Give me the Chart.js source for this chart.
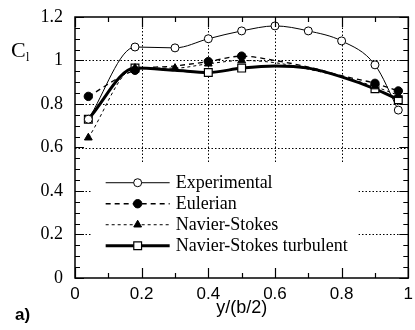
<!DOCTYPE html>
<html>
<head>
<meta charset="utf-8">
<script src="https://cdn.jsdelivr.net/npm/chart.js@4/dist/chart.umd.min.js"></script>
<style>
  html, body { margin: 0; padding: 0; background: #fff; }
  #wrap { width: 415px; height: 330px; }
</style>
</head>
<body>
<div id="wrap"><canvas id="cl-chart"></canvas></div>
<script>
// spanwise stations y/(b/2)
const stations = [0.04, 0.18, 0.3, 0.4, 0.5, 0.6, 0.7, 0.8, 0.9, 0.97];
const experimental = [0.73, 1.062, 1.058, 1.10, 1.136, 1.159, 1.136, 1.09, 0.98, 0.772];
const eulerian = [0.835, 0.955, 0.975, 0.995, 1.02, 1.0, 0.97, 0.93, 0.895, 0.86];
const navierStokes = [0.645, 0.965, 0.965, 0.985, 1.0, 0.99, 0.96, 0.925, 0.88, 0.84];
const nsTurbulent = [0.73, 0.965, 0.955, 0.945, 0.965, 0.975, 0.965, 0.925, 0.87, 0.82];
const seriesNames = ["Experimental", "Eulerian", "Navier-Stokes", "Navier-Stokes turbulent"];
const xTicks = [0, 0.2, 0.4, 0.6, 0.8, 1];
const yTicks = [0, 0.2, 0.4, 0.6, 0.8, 1, 1.2];

const serif = "'Liberation Serif', 'Times New Roman', serif";
const sans = "'Liberation Sans', Arial, sans-serif";

const pts = (ys) => stations.map((x, i) => ({ x: x, y: ys[i] }));
// which stations carry a marker
const marksAt = (list, r) => (ctx) => list.includes(ctx.dataIndex) ? r : 0;
const fmt = (v) => String(Number(v.toFixed(1)));

const styles = [
    { pointStyle: 'circle', radius: marksAt([0,1,2,3,4,5,6,7,8,9], 4), fill: '#fff', width: 1, dash: [], pw: 1 },
    { pointStyle: 'circle', radius: marksAt([0,1,3,4,8,9], 4.2), fill: '#000', width: 1.3, dash: [5, 4], pw: 1 },
    { pointStyle: 'triangle', radius: marksAt([0,1,2,3,4,8,9], 4.5), fill: '#000', width: 1, dash: [3, 3], pw: 1 },
    { pointStyle: 'rect', radius: marksAt([0,1,3,4,8,9], 5.5), fill: '#fff', width: 3, dash: [], pw: 1.2 }
];
const values = [experimental, eulerian, navierStokes, nsTurbulent];

const datasets = values.map((v, i) => ({
    label: seriesNames[i],
    data: pts(v),
    borderColor: '#000',
    backgroundColor: styles[i].fill,
    borderWidth: styles[i].width,
    borderDash: styles[i].dash,
    cubicInterpolationMode: 'monotone',
    pointStyle: styles[i].pointStyle,
    pointRadius: styles[i].radius,
    pointBorderWidth: styles[i].pw,
    pointBorderColor: '#000',
    pointBackgroundColor: styles[i].fill
}));

const decor = {
    id: 'decor',
    beforeDatasetsDraw(chart) {
        const { ctx, chartArea: a, scales: { x, y } } = chart;
        ctx.save();
        // dotted grid
        ctx.strokeStyle = '#000';
        ctx.lineWidth = 1;
        ctx.setLineDash([1.5, 2]);
        xTicks.slice(1, -1).forEach(v => {
            const px = Math.round(x.getPixelForValue(v)) + 0.5;
            ctx.beginPath(); ctx.moveTo(px, a.top); ctx.lineTo(px, a.bottom); ctx.stroke();
        });
        yTicks.slice(1, -1).forEach(v => {
            const py = Math.round(y.getPixelForValue(v)) + 0.5;
            ctx.beginPath(); ctx.moveTo(a.left, py); ctx.lineTo(a.right, py); ctx.stroke();
        });
        ctx.setLineDash([]);

        // legend box (covers grid)
        const bx = x.getPixelForValue(0.05), bw = x.getPixelForValue(0.85) - bx;
        const by = y.getPixelForValue(0.53), bh = a.bottom - 1 - by;
        ctx.fillStyle = '#fff';
        ctx.fillRect(bx, by, bw, bh);

        const x0 = bx + 14, x1 = x0 + 64, tx = x1 + 6;
        let ly = by + 20;
        chart.data.datasets.forEach((ds, i) => {
            const st = styles[i];
            ctx.strokeStyle = '#000';
            ctx.lineWidth = st.width;
            ctx.setLineDash(st.dash);
            ctx.beginPath(); ctx.moveTo(x0, ly); ctx.lineTo(x1, ly); ctx.stroke();
            ctx.setLineDash([]);
            ctx.fillStyle = st.fill;
            ctx.lineWidth = st.pw;
            const r = st.radius({ dataIndex: 0 });
            Chart.helpers.drawPoint(ctx, { pointStyle: st.pointStyle, radius: r, rotation: 0, borderWidth: st.pw }, (x0 + x1) / 2, ly);
            ctx.fillStyle = '#000';
            ctx.font = '18px ' + serif;
            ctx.textBaseline = 'middle';
            ctx.textAlign = 'left';
            ctx.fillText(ds.label, tx, ly + 1);
            ly += 21;
        });
        ctx.restore();
    },
    afterDraw(chart) {
        const { ctx, chartArea: a, scales: { x, y } } = chart;
        ctx.save();
        ctx.strokeStyle = '#000';
        ctx.lineWidth = 1.5;
        ctx.strokeRect(a.left, a.top, a.right - a.left, a.bottom - a.top);
        ctx.lineWidth = 1.2;
        // inward ticks, left and right
        for (let i = 0; i <= 24; i++) {
            const py = Math.round(y.getPixelForValue(i * 0.05)) + 0.5;
            const len = i % 4 === 0 ? 9 : 5;
            ctx.beginPath();
            ctx.moveTo(a.left, py); ctx.lineTo(a.left + len, py);
            ctx.moveTo(a.right, py); ctx.lineTo(a.right - len, py);
            ctx.stroke();
        }
        // inward ticks, bottom and top
        for (let i = 0; i <= 10; i++) {
            const px = Math.round(x.getPixelForValue(i * 0.1)) + 0.5;
            const len = i % 2 === 0 ? 10 : 5;
            ctx.beginPath();
            ctx.moveTo(px, a.bottom); ctx.lineTo(px, a.bottom - len);
            ctx.moveTo(px, a.top); ctx.lineTo(px, a.top + len);
            ctx.stroke();
        }
        // C_l label
        ctx.fillStyle = '#000';
        ctx.textAlign = 'left';
        ctx.textBaseline = 'alphabetic';
        ctx.font = '22px ' + serif;
        ctx.fillText('C', 11, 57);
        ctx.font = '12px ' + serif;
        ctx.fillText('l', 26, 61);
        // panel tag
        ctx.font = 'bold 17px ' + sans;
        ctx.fillText('a)', 15, 320);
        ctx.restore();
    }
};

new Chart(document.getElementById('cl-chart'), {
    type: 'line',
    data: { datasets: datasets },
    options: {
        responsive: true,
        maintainAspectRatio: false,
        animation: false,
        layout: { padding: { top: 17, right: 2, left: 0, bottom: 0 } },
        plugins: {
            legend: { display: false },
            tooltip: { enabled: false }
        },
        scales: {
            x: {
                type: 'linear',
                min: 0,
                max: 1,
                afterFit: (s) => { s.height = 52; s.paddingLeft = 0; s.paddingRight = 0; },
                afterBuildTicks: (s) => { s.ticks = xTicks.map(v => ({ value: v })); },
                grid: { display: false, drawTicks: false },
                border: { display: false },
                ticks: {
                    color: '#000',
                    padding: 6,
                    maxRotation: 0,
                    autoSkip: false,
                    callback: fmt,
                    font: { family: sans, size: 17 }
                },
                title: {
                    display: true,
                    text: 'y/(b/2)',
                    color: '#000',
                    font: { family: sans, size: 18 },
                    padding: { top: 0, bottom: 11 }
                }
            },
            y: {
                type: 'linear',
                min: 0,
                max: 1.2,
                afterFit: (s) => { s.width = 75; s.paddingTop = 0; s.paddingBottom = 0; },
                afterBuildTicks: (s) => { s.ticks = yTicks.map(v => ({ value: v })); },
                grid: { display: false, drawTicks: false },
                border: { display: false },
                ticks: {
                    color: '#000',
                    padding: 12,
                    callback: fmt,
                    font: { family: serif, size: 18 }
                }
            }
        }
    },
    plugins: [decor]
});
</script>
</body>
</html>
